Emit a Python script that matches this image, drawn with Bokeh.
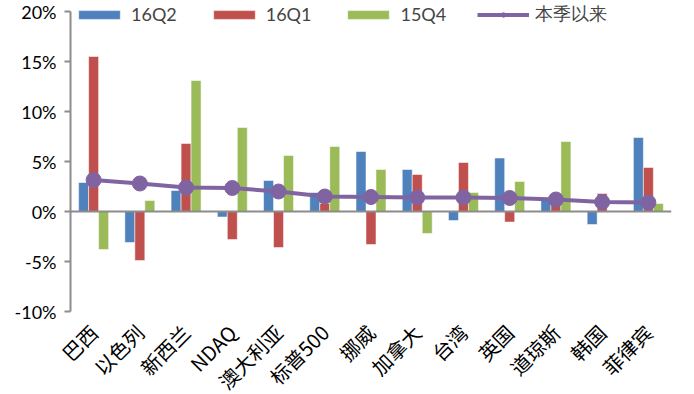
from bokeh.plotting import figure
from bokeh.models import (ColumnDataSource, FixedTicker, PrintfTickFormatter,
                          Legend, LegendItem, Range1d, LinearAxis)
from bokeh.transform import dodge
from bokeh.embed import file_html
from bokeh.resources import INLINE
import math

categories = ["巴西", "以色列", "新西兰", "NDAQ", "澳大利亚", "标普500", "挪威",
              "加拿大", "台湾", "英国", "道琼斯", "韩国", "菲律宾"]
q16q2 = [2.9, -3.1, 2.1, -0.55, 3.1, 1.9, 6.0, 4.2, -0.9, 5.35, 1.2, -1.3, 7.4]
q16q1 = [15.5, -4.9, 6.8, -2.8, -3.6, 0.8, -3.3, 3.7, 4.9, -1.05, 1.0, 1.8, 4.4]
q15q4 = [-3.8, 1.1, 13.1, 8.4, 5.6, 6.5, 4.2, -2.2, 1.9, 3.0, 7.0, 0.05, 0.8]
ytd = [3.15, 2.8, 2.4, 2.35, 2.0, 1.5, 1.45, 1.4, 1.4, 1.35, 1.2, 0.95, 0.9]
y_ticks = [-10, -5, 0, 5, 10, 15, 20]
y_min, y_max = -10, 20
series_names = ["16Q2", "16Q1", "15Q4", "本季以来"]

idx = list(range(len(categories)))

# ---- layout (pixels) ----
W, H = 694, 394
plot_left, plot_right = 70, 671      # value-axis position and end of the category span
plot_top = 11                        # pixel of the 20% level
py_per_unit = 10.0
frame_w = W - (W - plot_right)
px_per_cat = (plot_right - plot_left) / len(categories)
x_start = -0.5 - plot_left / px_per_cat
x_end = len(categories) - 0.5
y_end = y_max + plot_top / py_per_unit
y_start = y_end - H / py_per_unit

src = ColumnDataSource(dict(idx=idx, cat=categories, a=q16q2, b=q16q1, c=q15q4, d=ytd))

p = figure(width=W, height=H, title=None,
           x_range=Range1d(x_start, x_end), y_range=Range1d(y_start, y_end),
           output_backend="svg", toolbar_location=None,
           min_border_left=0, min_border_right=W - plot_right, min_border_top=0,
           min_border_bottom=0, x_axis_location=None, y_axis_location=None)
p.outline_line_color = None
p.xgrid.visible = False
p.ygrid.visible = False
p.background_fill_color = "white"

w = 0.216
r1 = p.vbar(x=dodge("idx", -w), top="a", width=w, source=src,
            fill_color="#4F81BD", line_color="white", line_alpha=0.5, line_width=1)
r2 = p.vbar(x=dodge("idx", 0), top="b", width=w, source=src,
            fill_color="#C0504D", line_color="white", line_alpha=0.5, line_width=1)
r3 = p.vbar(x=dodge("idx", w), top="c", width=w, source=src,
            fill_color="#9BBB59", line_color="white", line_alpha=0.5, line_width=1)

r4 = p.line(x="idx", y="d", source=src, line_color="#8064A2", line_width=4)
r5 = p.scatter(x="idx", y="d", source=src, size=15, fill_color="#8064A2",
               line_color="#8064A2")

# value axis, pinned at the left edge of the first category
yax = LinearAxis(fixed_location=-0.5, bounds=(y_min, y_max),
                 ticker=FixedTicker(ticks=y_ticks),
                 formatter=PrintfTickFormatter(format="%d%%"))
yax.major_label_text_font = "Lato"
yax.major_label_text_font_size = "18px"
yax.major_label_text_color = "black"
yax.axis_line_color = "#8C8C8C"
yax.axis_line_width = 2
yax.major_tick_line_color = "#8C8C8C"
yax.major_tick_line_width = 2
yax.major_tick_out = 6
yax.major_tick_in = 0
yax.minor_tick_line_color = None
yax.major_label_standoff = 8
p.add_layout(yax, "left")

# zero line: a label-less category axis pinned at 0
zax = LinearAxis(fixed_location=0, bounds=(-0.5, x_end), ticker=FixedTicker(ticks=[]))
zax.axis_line_color = "#8C8C8C"
zax.axis_line_width = 2
zax.major_tick_line_color = None
zax.minor_tick_line_color = None
zax.major_label_text_font_size = "0px"
p.add_layout(zax, "below")

# category labels, pinned at the -10% level
xax = LinearAxis(fixed_location=y_min, ticker=FixedTicker(ticks=idx),
                 major_label_overrides={i: c for i, c in zip(idx, categories)})
xax.axis_line_color = None
xax.major_tick_line_color = None
xax.minor_tick_line_color = None
xax.major_tick_out = 0
xax.major_tick_in = 0
xax.major_label_orientation = math.pi / 4
xax.major_label_standoff = 17
xax.major_label_text_font = "Noto Sans CJK SC"
xax.major_label_text_font_size = "20px"
xax.major_label_text_color = "black"
p.add_layout(xax, "below")

legend = Legend(items=[
    LegendItem(label=series_names[0], renderers=[r1]),
    LegendItem(label=series_names[1], renderers=[r2]),
    LegendItem(label=series_names[2], renderers=[r3]),
    LegendItem(label=series_names[3], renderers=[r4, r5]),
], orientation="horizontal", location=(plot_left + 3, H - 26), glyph_width=52, glyph_height=11,
    label_text_font="Lato", label_text_font_size="18px", spacing=31,
    label_standoff=6, padding=0, margin=0, background_fill_alpha=0,
    border_line_color=None)
p.add_layout(legend)

open("out.html", "w").write(file_html(p, INLINE))
